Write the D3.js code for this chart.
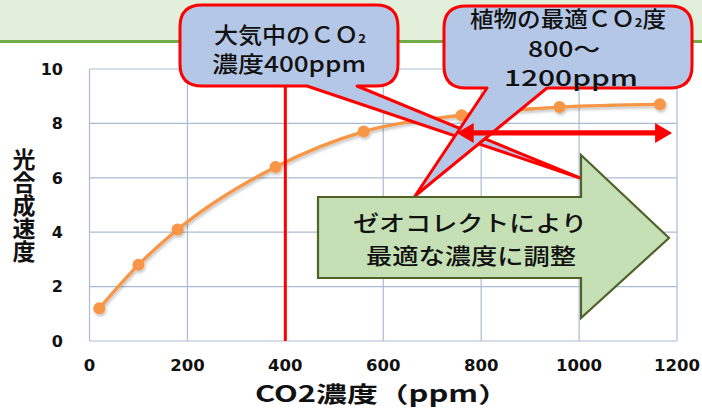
<!DOCTYPE html>
<html lang="ja">
<head>
<meta charset="utf-8">
<title>CO2濃度と光合成速度</title>
<script src="https://cdn.jsdelivr.net/npm/d3@7"></script>
<style>
  body { margin: 0; background: #fff; }
  svg { display: block; }
</style>
</head>
<body>
<svg width="702" height="409"></svg>
<script>
// データ
var co2 = [20, 100, 180, 380, 560, 760, 960, 1165];
var rate = [1.2, 2.8, 4.1, 6.4, 7.7, 8.3, 8.6, 8.7];
var xTicks = [0, 200, 400, 600, 800, 1000, 1200];
var yTicks = [0, 2, 4, 6, 8, 10];
var nowCO2 = 400;            // 大気中のCO2
var bestRange = [750, 1190]; // 最適範囲の矢印
var bestLevel = 7.65;

var svg = d3.select("svg");
var jp = "'Noto Sans CJK JP', 'Noto Sans', sans-serif";

var x = d3.scaleLinear().domain([0, 1200]).range([89.5, 677]);
var y = d3.scaleLinear().domain([0, 10]).range([341, 69]);

// ヘッダー帯
svg.append("rect").attr("x", 0).attr("y", 0).attr("width", 702).attr("height", 41).attr("fill", "#e2efda");
svg.append("rect").attr("x", 0).attr("y", 40).attr("width", 702).attr("height", 3).attr("fill", "#70ad47");

// グリッド
var grid = svg.append("g").attr("stroke", "#a9bbd2").attr("stroke-width", 1.2);
grid.selectAll(".gx").data(xTicks).enter().append("line")
    .attr("x1", function (d) { return x(d); }).attr("x2", function (d) { return x(d); })
    .attr("y1", y(10)).attr("y2", y(0));
grid.selectAll(".gy").data(yTicks).enter().append("line")
    .attr("x1", x(0)).attr("x2", x(1200))
    .attr("y1", function (d) { return y(d); }).attr("y2", function (d) { return y(d); });

// 目盛りラベル
var tickFont = "'DejaVu Sans', Verdana, sans-serif";
svg.append("g").selectAll("text").data(yTicks).enter().append("text")
    .attr("x", 63).attr("y", function (d) { return y(d); }).attr("dy", "0.36em")
    .attr("text-anchor", "end").attr("font-family", tickFont).attr("font-weight", "bold")
    .attr("font-size", 16).attr("fill", "#111").text(function (d) { return d; });
svg.append("g").selectAll("text").data(xTicks).enter().append("text")
    .attr("x", function (d) { return x(d); }).attr("y", 371)
    .attr("text-anchor", "middle").attr("font-family", tickFont).attr("font-weight", "bold")
    .attr("font-size", 16.5).attr("fill", "#111").text(function (d) { return d; });

// 軸タイトル
svg.append("text").attr("x", 382).attr("y", 402).attr("text-anchor", "middle")
    .attr("font-family", jp).attr("font-weight", "bold").attr("font-size", 22)
    .attr("textLength", 254).attr("lengthAdjust", "spacingAndGlyphs")
    .attr("fill", "#111").text("CO2濃度（ppm）");
svg.append("text").attr("x", 24).attr("y", 148)
    .attr("writing-mode", "vertical-rl").attr("letter-spacing", 0)
    .attr("font-family", jp).attr("font-weight", "bold").attr("font-size", 23)
    .attr("fill", "#111").text("光合成速度");

// 折れ線
var defs = svg.append("defs");
var sh = defs.append("filter").attr("id", "sh").attr("x", "-20%").attr("y", "-20%").attr("width", "140%").attr("height", "140%");
sh.append("feDropShadow").attr("dx", 1).attr("dy", 2).attr("stdDeviation", 1.5).attr("flood-color", "#000").attr("flood-opacity", 0.25);

var pts = co2.map(function (d, i) { return [d, rate[i]]; });
var line = d3.line().x(function (d) { return x(d[0]); }).y(function (d) { return y(d[1]); }).curve(d3.curveMonotoneX);
var series = svg.append("g").attr("filter", "url(#sh)");
series.append("path").datum(pts).attr("d", line).attr("fill", "none")
    .attr("stroke", "#f79646").attr("stroke-width", 3.4);
series.selectAll("circle").data(pts).enter().append("circle")
    .attr("cx", function (d) { return x(d[0]); }).attr("cy", function (d) { return y(d[1]); })
    .attr("r", 6).attr("fill", "#f79646");

// 現在の大気中CO2（赤線）
svg.append("line").attr("x1", x(nowCO2)).attr("x2", x(nowCO2))
    .attr("y1", 86).attr("y2", y(0)).attr("stroke", "#ff0000").attr("stroke-width", 3);

// 吹き出し
function callout(l, t, r, b, rad, tb1, tb2, tip) {
    var p = d3.path();
    p.moveTo(l + rad, t);
    p.lineTo(r - rad, t);
    p.quadraticCurveTo(r, t, r, t + rad);
    p.lineTo(r, b - rad);
    p.quadraticCurveTo(r, b, r - rad, b);
    p.lineTo(tb2, b);
    p.lineTo(tip[0], tip[1]);
    p.lineTo(tb1, b);
    p.lineTo(l + rad, b);
    p.quadraticCurveTo(l, b, l, b - rad);
    p.lineTo(l, t + rad);
    p.quadraticCurveTo(l, t, l + rad, t);
    p.closePath();
    return p.toString();
}
var bubbles = svg.append("g");
bubbles.append("path").attr("d", callout(180, 5, 398, 86, 22, 307, 357, [580, 178]))
    .attr("fill", "#b4c7e7").attr("stroke", "#ff0000").attr("stroke-width", 3).attr("stroke-linejoin", "round");
bubbles.append("path").attr("d", callout(444, 6, 692, 88, 22, 487, 547, [415, 196]))
    .attr("fill", "#b4c7e7").attr("stroke", "#ff0000").attr("stroke-width", 3).attr("stroke-linejoin", "round");

function label(x0, y0, len, txt) {
    var t = svg.append("text").attr("x", x0).attr("y", y0).attr("text-anchor", "middle")
        .attr("font-family", jp).attr("font-weight", 500).attr("font-size", 22).attr("fill", "#111");
    if (len) t.attr("textLength", len).attr("lengthAdjust", "spacingAndGlyphs");
    if (typeof txt === "string") { t.text(txt); return t; }
    t.append("tspan").text(txt[0]);
    t.append("tspan").attr("font-size", 12).attr("font-weight", "bold").text("2");
    if (txt[1]) t.append("tspan").text(txt[1]);
    return t;
}
label(290, 43, 152, ["大気中のＣＯ", ""]);
label(289, 72, 154, "濃度400ppm");
label(568, 27, 196, ["植物の最適ＣＯ", "度"]);
label(564, 57, 72, "800～");
label(571, 86, 134, "1200ppm");

// 最適範囲の赤い両矢印
var ax0 = x(bestRange[0]), ax1 = x(bestRange[1]), ay = y(bestLevel);
var hl = 17, hh = 10, sw = 2.6;
svg.append("path")
    .attr("d", "M" + ax0 + "," + ay +
        "L" + (ax0 + hl) + "," + (ay - hh) + "L" + (ax0 + hl) + "," + (ay - sw) +
        "L" + (ax1 - hl) + "," + (ay - sw) + "L" + (ax1 - hl) + "," + (ay - hh) +
        "L" + ax1 + "," + ay +
        "L" + (ax1 - hl) + "," + (ay + hh) + "L" + (ax1 - hl) + "," + (ay + sw) +
        "L" + (ax0 + hl) + "," + (ay + sw) + "L" + (ax0 + hl) + "," + (ay + hh) + "Z")
    .attr("fill", "#ff0000");

// 緑の矢印
svg.append("path")
    .attr("d", "M318,197L581,197L581,155L669,238L581,318L581,278L318,278Z")
    .attr("fill", "#c5e0b4").attr("stroke", "#4f6228").attr("stroke-width", 2.2);
svg.append("text").attr("x", 470).attr("y", 231).attr("text-anchor", "middle")
    .attr("font-family", jp).attr("font-weight", 500).attr("font-size", 22).attr("fill", "#111")
    .attr("textLength", 234).attr("lengthAdjust", "spacingAndGlyphs")
    .text("ゼオコレクトにより");
svg.append("text").attr("x", 471).attr("y", 264).attr("text-anchor", "middle")
    .attr("font-family", jp).attr("font-weight", 500).attr("font-size", 22).attr("fill", "#111")
    .attr("textLength", 210).attr("lengthAdjust", "spacingAndGlyphs")
    .text("最適な濃度に調整");
</script>
</body>
</html>
